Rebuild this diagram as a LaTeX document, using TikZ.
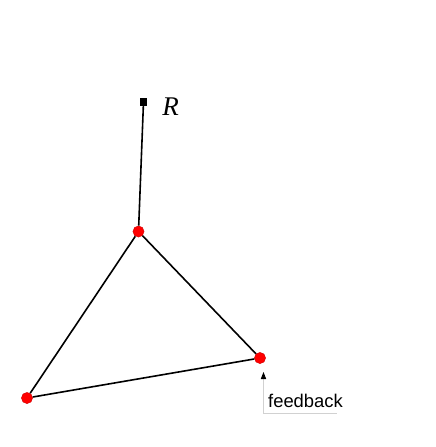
\documentclass[tikz,border=0pt]{standalone}
\usepackage{fontspec}
\newfontfamily\labelfont{Liberation Sans}
\newfontfamily\letterfont{Liberation Serif}
\usetikzlibrary{arrows.meta, positioning}

\begin{document}
\begin{tikzpicture}[x=0.5pt,y=-0.5pt,on grid,
      every node/.style={inner sep=0pt},
      dot/.style={circle,fill=red,draw=red!80!black,line width=0.2pt,minimum size=5.6pt},
      source/.style={rectangle,fill=black,minimum size=3.6pt},
      link/.style={line width=0.8pt},
      fbline/.style={draw=black!18,line width=0.5pt,-{Triangle[length=3.5pt,width=2.6pt,color=black,fill=black]}}]
      \useasboundingbox (0,0) rectangle (436,447);
      \node[source] (src) at (143.5,102) {};
      \node (lbl) [right=13.5pt of src, yshift=-2.5pt] {\letterfont\itshape\fontsize{13.5}{14}\selectfont R};
      \node[dot] (top) at (138.5,231.5) {};
      \node[dot] (right) at (260,358) {};
      \node[dot] (left) at (27,398) {};
      \path[link]
      (src) edge (top)
      (top) edge (right)
      (right) edge (left)
      (left) edge (top);
      % feedback pin
      \coordinate (fbtip) at (263.5,372);
      \coordinate (fbend) at (337,413);
      \node (fb) at (305.5,401) {\labelfont\fontsize{9.2}{10}\selectfont feedback};
      \draw[fbline] (fbend) -| (fbtip);
    \end{tikzpicture}
\end{document}
